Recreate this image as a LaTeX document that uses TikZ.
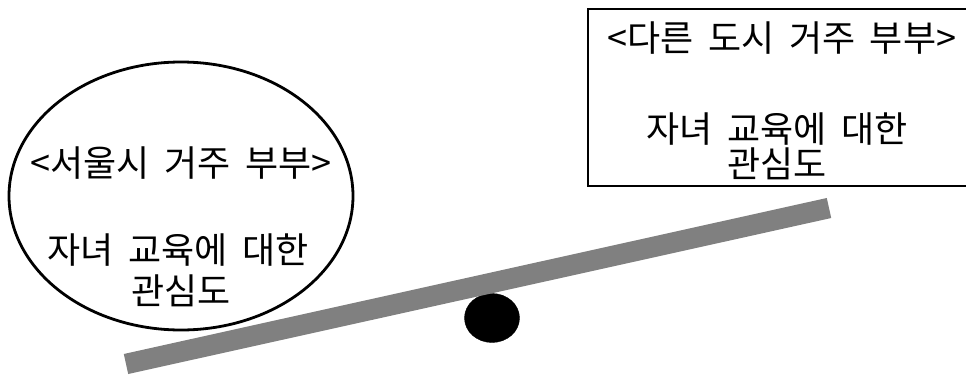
\documentclass[tikz,border=0pt]{standalone}
\usepackage{fontspec}
\setmainfont[WordSpace=1.8]{Noto Sans CJK KR}
\usetikzlibrary{shapes.geometric,positioning}

\tikzset{
  label/.style={font=\fontsize{36}{43}\selectfont, inner sep=0pt},
  beam/.style={line width=20.5pt, color=black!50},
}

\begin{document}
\begin{tikzpicture}[x=1pt, y=-1pt]
    \useasboundingbox (0,0) rectangle (966,375);

    % Seoul couples
    \node[draw, ellipse, line width=2.8pt, minimum width=344pt, minimum height=268pt] (seoul) at (181,196) {};
    \node[label] (seoulT) at (181,163) {<서울시 거주 부부>};
    \node[label] (seoulA) at (178,250) {자녀 교육에 대한};
    \node[label] (seoulB) at (181,291) {관심도};

    % Other city couples
    \node[draw, rectangle, line width=2.8pt, minimum width=390pt, minimum height=177pt] (other) at (783,97.5) {};
    \node[label] (otherT) at (782,38) {<다른 도시 거주 부부>};
    \node[label] (otherA) at (777,129) {자녀 교육에 대한};
    \node[label] (otherB) at (777,164) {관심도};

    % Seesaw
    \node[draw, fill=black, ellipse, minimum width=55pt, minimum height=49pt, inner sep=0pt] (pivot) at (492,318) {};
    \coordinate (beamL) at (126,364);
    \coordinate (beamR) at (829,208);
    \draw[beam] (beamL) -- (beamR);
\end{tikzpicture}
\end{document}
